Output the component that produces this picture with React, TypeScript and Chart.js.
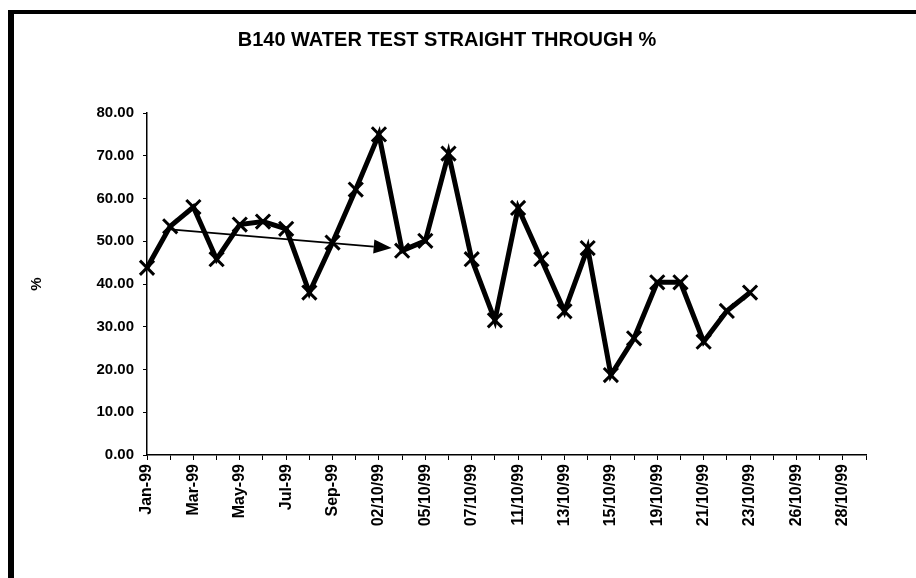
import React, { useEffect, useRef } from "react";
import { Chart, registerables } from "chart.js";

Chart.register(...registerables);

const CHART_TITLE = "B140 WATER TEST STRAIGHT THROUGH %";
const Y_TITLE = "%";

const CATEGORIES: string[] = [
  "Jan-99", "Feb-99", "Mar-99", "Apr-99", "May-99", "Jun-99", "Jul-99", "Aug-99",
  "Sep-99", "01/10/99", "02/10/99", "04/10/99", "05/10/99", "06/10/99", "07/10/99", "08/10/99",
  "11/10/99", "12/10/99", "13/10/99", "14/10/99", "15/10/99", "18/10/99", "19/10/99", "20/10/99",
  "21/10/99", "22/10/99", "23/10/99", "25/10/99", "26/10/99", "27/10/99", "28/10/99", "29/10/99",
];

const VALUES: (number | null)[] = [
  43.8, 53.5, 58.0, 45.8, 53.9, 54.6, 52.9, 38.0,
  49.7, 62.1, 75.0, 47.8, 50.1, 70.5, 45.8, 31.5,
  57.8, 45.8, 33.6, 48.4, 18.7, 27.3, 40.4, 40.4,
  26.5, 33.7, 38.0, null, null, null, null, null,
];

const Y_MIN = 0;
const Y_MAX = 80;
const Y_STEP = 10;

// Trend arrow annotation: [category index, value]
const ARROW_START: [number, number] = [1, 52.8];
const ARROW_END: [number, number] = [10.55, 48.4];

const FONT = "'Liberation Sans', Arial, Helvetica, sans-serif";

const arrowPlugin = {
  id: "trendArrow",
  beforeDatasetsDraw(chart: any) {
    const { ctx, scales } = chart;
    const x = scales.x;
    const y = scales.y;
    const x1 = x.getPixelForValue(ARROW_START[0]);
    const y1 = y.getPixelForValue(ARROW_START[1]);
    const x2 = x.getPixelForValue(ARROW_END[0]);
    const y2 = y.getPixelForValue(ARROW_END[1]);
    const ang = Math.atan2(y2 - y1, x2 - x1);
    const headLen = 18;
    const headHalf = 7;
    const bx = x2 - headLen * Math.cos(ang);
    const by = y2 - headLen * Math.sin(ang);
    ctx.save();
    ctx.strokeStyle = "#000";
    ctx.fillStyle = "#000";
    ctx.lineWidth = 1.8;
    ctx.beginPath();
    ctx.moveTo(x1, y1);
    ctx.lineTo(bx, by);
    ctx.stroke();
    ctx.beginPath();
    ctx.moveTo(x2, y2);
    ctx.lineTo(bx + headHalf * Math.sin(ang), by - headHalf * Math.cos(ang));
    ctx.lineTo(bx - headHalf * Math.sin(ang), by + headHalf * Math.cos(ang));
    ctx.closePath();
    ctx.fill();
    ctx.restore();
  },
};

export default function App() {
  const canvasRef = useRef<HTMLCanvasElement | null>(null);

  useEffect(() => {
    document.body.style.margin = "0";
    const canvas = canvasRef.current;
    if (!canvas) return;
    const chart = new Chart(canvas, {
      type: "line",
      data: {
        labels: CATEGORIES,
        datasets: [
          {
            data: VALUES,
            borderColor: "#000",
            backgroundColor: "#000",
            borderWidth: 5,
            tension: 0,
            spanGaps: false,
            pointStyle: "crossRot",
            pointRadius: 10,
            pointBorderWidth: 3,
            pointBorderColor: "#000",
            pointHoverRadius: 10,
          },
        ],
      },
      options: {
        animation: false,
        responsive: false,
        devicePixelRatio: 1,
        events: [],
        layout: { padding: { left: 28, right: 50, top: 0, bottom: 0 } },
        plugins: {
          legend: { display: false },
          tooltip: { enabled: false },
          title: {
            display: true,
            text: CHART_TITLE,
            color: "#000",
            font: { family: FONT, size: 20, weight: "bold" },
            padding: { top: 28, bottom: 61 },
          },
        },
        scales: {
          x: {
            type: "category",
            offset: false,
            grid: {
              display: true,
              drawOnChartArea: false,
              drawTicks: true,
              tickLength: 5,
              color: "#000",
              tickWidth: 1,
            },
            border: { display: true, color: "#000", width: 1.5 },
            ticks: {
              autoSkip: false,
              maxRotation: 90,
              minRotation: 90,
              padding: 4,
              color: "#000",
              font: { family: FONT, size: 16, weight: "bold" },
              callback: (_v: any, i: number) => (i % 2 === 0 ? CATEGORIES[i] : ""),
            },
            afterFit: (scale: any) => {
              scale.height = 123;
            },
          },
          y: {
            min: Y_MIN,
            max: Y_MAX,
            grid: {
              display: true,
              drawOnChartArea: false,
              drawTicks: true,
              tickLength: 4,
              color: "#000",
            },
            border: { display: true, color: "#000", width: 1.5 },
            ticks: {
              stepSize: Y_STEP,
              padding: 9,
              color: "#000",
              font: { family: FONT, size: 15, weight: "bold" },
              callback: (v: any) => Number(v).toFixed(2),
            },
            title: {
              display: true,
              text: Y_TITLE,
              color: "#000",
              font: { family: FONT, size: 15, weight: "bold" },
              padding: { top: 0, bottom: 0 },
            },
            afterFit: (scale: any) => {
              scale.width = 119;
            },
          },
        },
      },
      plugins: [arrowPlugin],
    });
    return () => chart.destroy();
  }, []);

  return (
    <div style={{ position: "absolute", left: 0, top: 0, width: 916, height: 578, background: "#fff" }}>
      <canvas ref={canvasRef} width={916} height={578} style={{ position: "absolute", left: 0, top: 0 }} />
      <div
        style={{
          position: "absolute",
          left: 8,
          top: 10,
          width: 908,
          height: 568,
          borderTop: "4px solid #000",
          borderLeft: "6px solid #000",
          boxSizing: "border-box",
          pointerEvents: "none",
        }}
      />
    </div>
  );
}
